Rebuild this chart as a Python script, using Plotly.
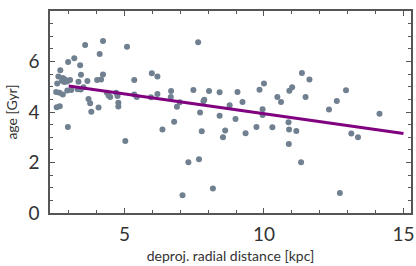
import plotly.graph_objects as go

# deprojected radial distance [kpc]
dist_kpc = [3.59, 4.23, 5.09, 4.11, 3.20, 2.98, 3.41, 2.70, 3.44, 4.23,
            2.63, 2.79, 2.87, 2.76, 2.84, 2.94, 3.05, 3.35, 3.67, 4.02,
            4.16, 2.59, 5.35, 5.98, 6.18, 7.64, 2.55, 2.67, 2.79, 2.95,
            3.09, 3.32, 3.43, 3.53, 3.71, 3.77, 4.37, 4.43, 4.49, 4.70,
            4.75, 4.78, 4.78, 5.35, 5.44, 5.95, 6.18, 6.67, 6.66, 6.88,
            6.98, 7.47, 7.86, 8.03, 8.41, 2.57, 2.68, 2.97, 3.81, 4.07,
            5.03, 6.36, 6.78, 7.29, 7.08, 7.67, 7.71, 7.77, 7.83, 8.17,
            8.41, 8.53, 8.61, 8.77, 9.05, 9.23, 9.84, 10.00, 10.48, 10.61,
            10.91, 11.01, 11.36, 11.63, 11.49, 12.94, 12.61, 12.33, 9.95, 8.98,
            9.34, 9.73, 9.95, 10.30, 10.88, 10.90, 10.89, 11.16, 11.33, 12.72,
            13.13, 13.37, 14.14]
# age [Gyr]
age_gyr = [6.65, 6.81, 6.58, 6.30, 6.13, 5.98, 5.85, 5.65, 5.48, 5.49,
           5.41, 5.35, 5.29, 5.24, 5.19, 5.21, 5.27, 5.20, 5.23, 5.27,
           5.29, 5.13, 5.27, 5.53, 5.41, 6.76, 4.79, 4.76, 4.69, 4.85,
           4.87, 4.90, 4.89, 4.98, 4.51, 4.35, 4.76, 4.65, 4.59, 4.76,
           4.63, 4.37, 4.22, 4.69, 4.59, 4.58, 4.71, 4.83, 4.59, 4.21,
           4.39, 4.87, 4.49, 4.83, 4.78, 4.19, 4.23, 3.41, 4.01, 4.18,
           2.85, 3.31, 3.61, 2.01, 0.70, 2.13, 3.98, 3.24, 4.43, 0.97,
           3.85, 3.00, 3.27, 4.27, 4.79, 4.40, 4.88, 5.13, 4.59, 4.40,
           4.84, 4.98, 5.54, 5.29, 4.59, 4.86, 4.44, 4.10, 4.11, 3.72,
           3.16, 3.41, 3.88, 3.40, 3.59, 3.31, 2.73, 3.25, 2.01, 0.79,
           3.15, 3.00, 3.93]

# linear fit endpoints
fit_x = [3.0, 15.0]
fit_y = [5.03, 3.15]

x_ticks = [5, 10, 15]
y_ticks = [0, 2, 4, 6, 8]

FONT = "Lato"
AX = "#555555"
TXT = "#333333"

fig = go.Figure()
fig.add_trace(go.Scatter(
    x=dist_kpc, y=age_gyr, mode="markers",
    marker=dict(color="#708090", size=6, line=dict(width=0)),
    showlegend=False, hoverinfo="skip"))
fig.add_trace(go.Scatter(
    x=fit_x, y=fit_y, mode="lines",
    line=dict(color="#800080", width=3),
    showlegend=False, hoverinfo="skip"))

axis_common = dict(
    showgrid=False, zeroline=False, showline=True, linecolor=AX, linewidth=1.5,
    mirror="allticks", ticks="inside", ticklen=5, tickwidth=1, tickcolor=AX,
    tickfont=dict(family=FONT, size=19, color=TXT),
)

fig.update_xaxes(
    range=[2.33, 15.27], tickmode="array", tickvals=x_ticks,
    minor=dict(dtick=1, ticks="inside", ticklen=3, tickcolor=AX, tick0=0),
    title=dict(text="deproj. radial distance [kpc]",
               font=dict(family=FONT, size=14, color=TXT), standoff=8),
    ticklabelstandoff=3,
    **axis_common)
fig.update_yaxes(
    range=[0, 8], tickmode="array", tickvals=y_ticks,
    minor=dict(dtick=0.5, ticks="inside", ticklen=3, tickcolor=AX, tick0=0),
    title=dict(text="age [Gyr]",
               font=dict(family=FONT, size=14, color=TXT), standoff=8),
    ticklabelstandoff=5,
    **axis_common)

fig.update_layout(
    width=416, height=266,
    margin=dict(l=50, r=5, t=11, b=53, autoexpand=False),
    paper_bgcolor="white", plot_bgcolor="white",
)

fig.write_html("out.html", config={"displayModeBar": False},
               post_script="document.body.style.margin='0';")
